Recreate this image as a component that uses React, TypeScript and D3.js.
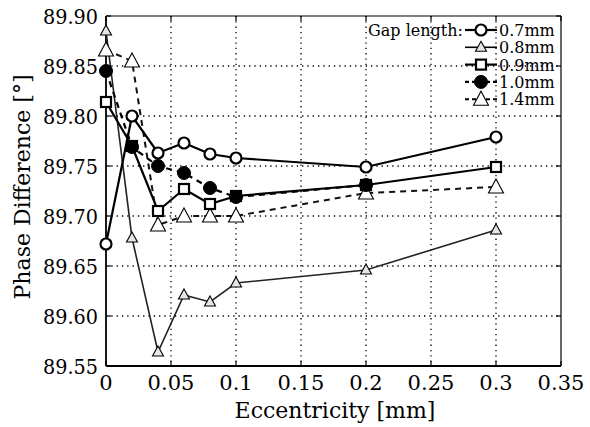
import React from "react";
import * as d3 from "d3";

const eccentricity = [0, 0.02, 0.04, 0.06, 0.08, 0.1, 0.2, 0.3];
const gap07 = [89.672, 89.8, 89.763, 89.773, 89.762, 89.758, 89.749, 89.779];
const gap08 = [89.885, 89.678, 89.564, 89.621, 89.614, 89.633, 89.646, 89.686];
const gap09 = [89.814, 89.77, 89.705, 89.727, 89.712, 89.72, 89.731, 89.749];
const gap10 = [89.845, 89.769, 89.75, 89.743, 89.728, 89.719, 89.731];
const gap14 = [89.866, 89.855, 89.691, 89.7, 89.7, 89.7, 89.723, 89.729];
const xTicks = [0, 0.05, 0.1, 0.15, 0.2, 0.25, 0.3, 0.35];
const yTicks = [89.55, 89.6, 89.65, 89.7, 89.75, 89.8, 89.85, 89.9];
const seriesNames = ["0.7mm", "0.8mm", "0.9mm", "1.0mm", "1.4mm"];

const W = 590, H = 427;
const L = 106, R = 561, T = 16, B = 366;
const FONT = "'DejaVu Serif', serif";

type Marker = "circle" | "smalltri" | "square" | "dot" | "bigtri";
interface Series { name: string; values: number[]; marker: Marker; width: number; dash?: string; color: string; }

const series: Series[] = [
  { name: seriesNames[1], values: gap08, marker: "smalltri", width: 1.6, color: "#222" },
  { name: seriesNames[4], values: gap14, marker: "bigtri", width: 2, dash: "6,5", color: "#111" },
  { name: seriesNames[2], values: gap09, marker: "square", width: 2.2, color: "#000" },
  { name: seriesNames[3], values: gap10, marker: "dot", width: 2.2, dash: "6,5", color: "#000" },
  { name: seriesNames[0], values: gap07, marker: "circle", width: 2.2, color: "#000" },
];

function MarkerShape({ m, x, y }: { m: Marker; x: number; y: number }) {
  switch (m) {
    case "circle":
      return <circle cx={x} cy={y} r={5.5} fill="#fff" stroke="#000" strokeWidth={2.2} />;
    case "dot":
      return <circle cx={x} cy={y} r={6.5} fill="#000" stroke="#000" strokeWidth={1} />;
    case "square":
      return <rect x={x - 5} y={y - 5} width={10} height={10} fill="#fff" stroke="#000" strokeWidth={2.2} />;
    case "smalltri":
      return <path d={`M${x},${y - 6} L${x + 5.5},${y + 4} L${x - 5.5},${y + 4} Z`} fill="#e6e6e6" stroke="#000" strokeWidth={1.1} />;
    case "bigtri":
      return <path d={`M${x},${y - 8} L${x + 7.5},${y + 6} L${x - 7.5},${y + 6} Z`} fill="#fff" stroke="#000" strokeWidth={1.1} />;
  }
}

const txt = { fontFamily: FONT };

export default function App() {
  const x = d3.scaleLinear().domain([0, 0.35]).range([L, R]);
  const y = d3.scaleLinear().domain([89.55, 89.9]).range([B, T]);

  return (
    <svg width={W} height={H} style={{ position: "absolute", left: 0, top: 0, background: "#fff" }}>
      <rect x={0} y={0} width={W} height={H} fill="#fff" />
      {xTicks.slice(1, -1).map((t) => (
        <line key={"gx" + t} x1={x(t)} x2={x(t)} y1={T} y2={B} stroke="#000" strokeWidth={1.3} strokeDasharray="1.3,4" />
      ))}
      {yTicks.slice(1, -1).map((t) => (
        <line key={"gy" + t} x1={L} x2={R} y1={y(t)} y2={y(t)} stroke="#000" strokeWidth={1.3} strokeDasharray="1.3,4" />
      ))}
      <line x1={L} x2={R} y1={T} y2={T} stroke="#000" strokeWidth={1.2} />
      <line x1={R} x2={R} y1={T} y2={B} stroke="#000" strokeWidth={1.2} />
      <line x1={L} x2={L} y1={T} y2={B} stroke="#000" strokeWidth={1.8} />
      <line x1={L} x2={R} y1={B} y2={B} stroke="#000" strokeWidth={1.8} />
      {yTicks.map((t) => (
        <g key={"ty" + t}>
          <line x1={L} x2={L + 5} y1={y(t)} y2={y(t)} stroke="#000" strokeWidth={1.2} />
          <line x1={R} x2={R - 5} y1={y(t)} y2={y(t)} stroke="#000" strokeWidth={1.2} />
          <text style={txt} x={98} y={y(t) + 8} fontSize={21} textAnchor="end" textLength={55} lengthAdjust="spacingAndGlyphs">{t.toFixed(2)}</text>
        </g>
      ))}
      {xTicks.map((t) => (
        <g key={"tx" + t}>
          <line x1={x(t)} x2={x(t)} y1={B} y2={B - 5} stroke="#000" strokeWidth={1.2} />
          <line x1={x(t)} x2={x(t)} y1={T} y2={T + 5} stroke="#000" strokeWidth={1.2} />
          <text style={txt} x={x(t)} y={390} fontSize={21} textAnchor="middle">{t === 0 ? "0" : String(t)}</text>
        </g>
      ))}
      <text style={txt} x={335} y={418} fontSize={22} textAnchor="middle">Eccentricity [mm]</text>
      <text style={txt} transform={`translate(30,187) rotate(-90)`} fontSize={22} textAnchor="middle">Phase Difference [°]</text>

      {series.map((s) => {
        const line = d3.line<number>().x((_, i) => x(eccentricity[i])).y((v) => y(v));
        return (
          <g key={s.name}>
            <path d={line(s.values) || ""} fill="none" stroke={s.color} strokeWidth={s.width} strokeDasharray={s.dash} />
            {s.values.map((v, i) => (
              <MarkerShape key={i} m={s.marker} x={x(eccentricity[i])} y={y(v)} />
            ))}
          </g>
        );
      })}

      <text style={txt} x={368} y={36} fontSize={16}>Gap length:</text>
      {[series[4], series[0], series[2], series[3], series[1]].map((s, i) => {
        const ly = 30 + i * 17.3;
        return (
          <g key={"lg" + s.name}>
            <line x1={465} x2={497} y1={ly} y2={ly} stroke="#000" strokeWidth={s.width} strokeDasharray={s.dash ? "4,3" : undefined} />
            <MarkerShape m={s.marker} x={481} y={ly} />
            <text style={txt} x={499} y={ly + 6} fontSize={16}>{s.name}</text>
          </g>
        );
      })}
    </svg>
  );
}
